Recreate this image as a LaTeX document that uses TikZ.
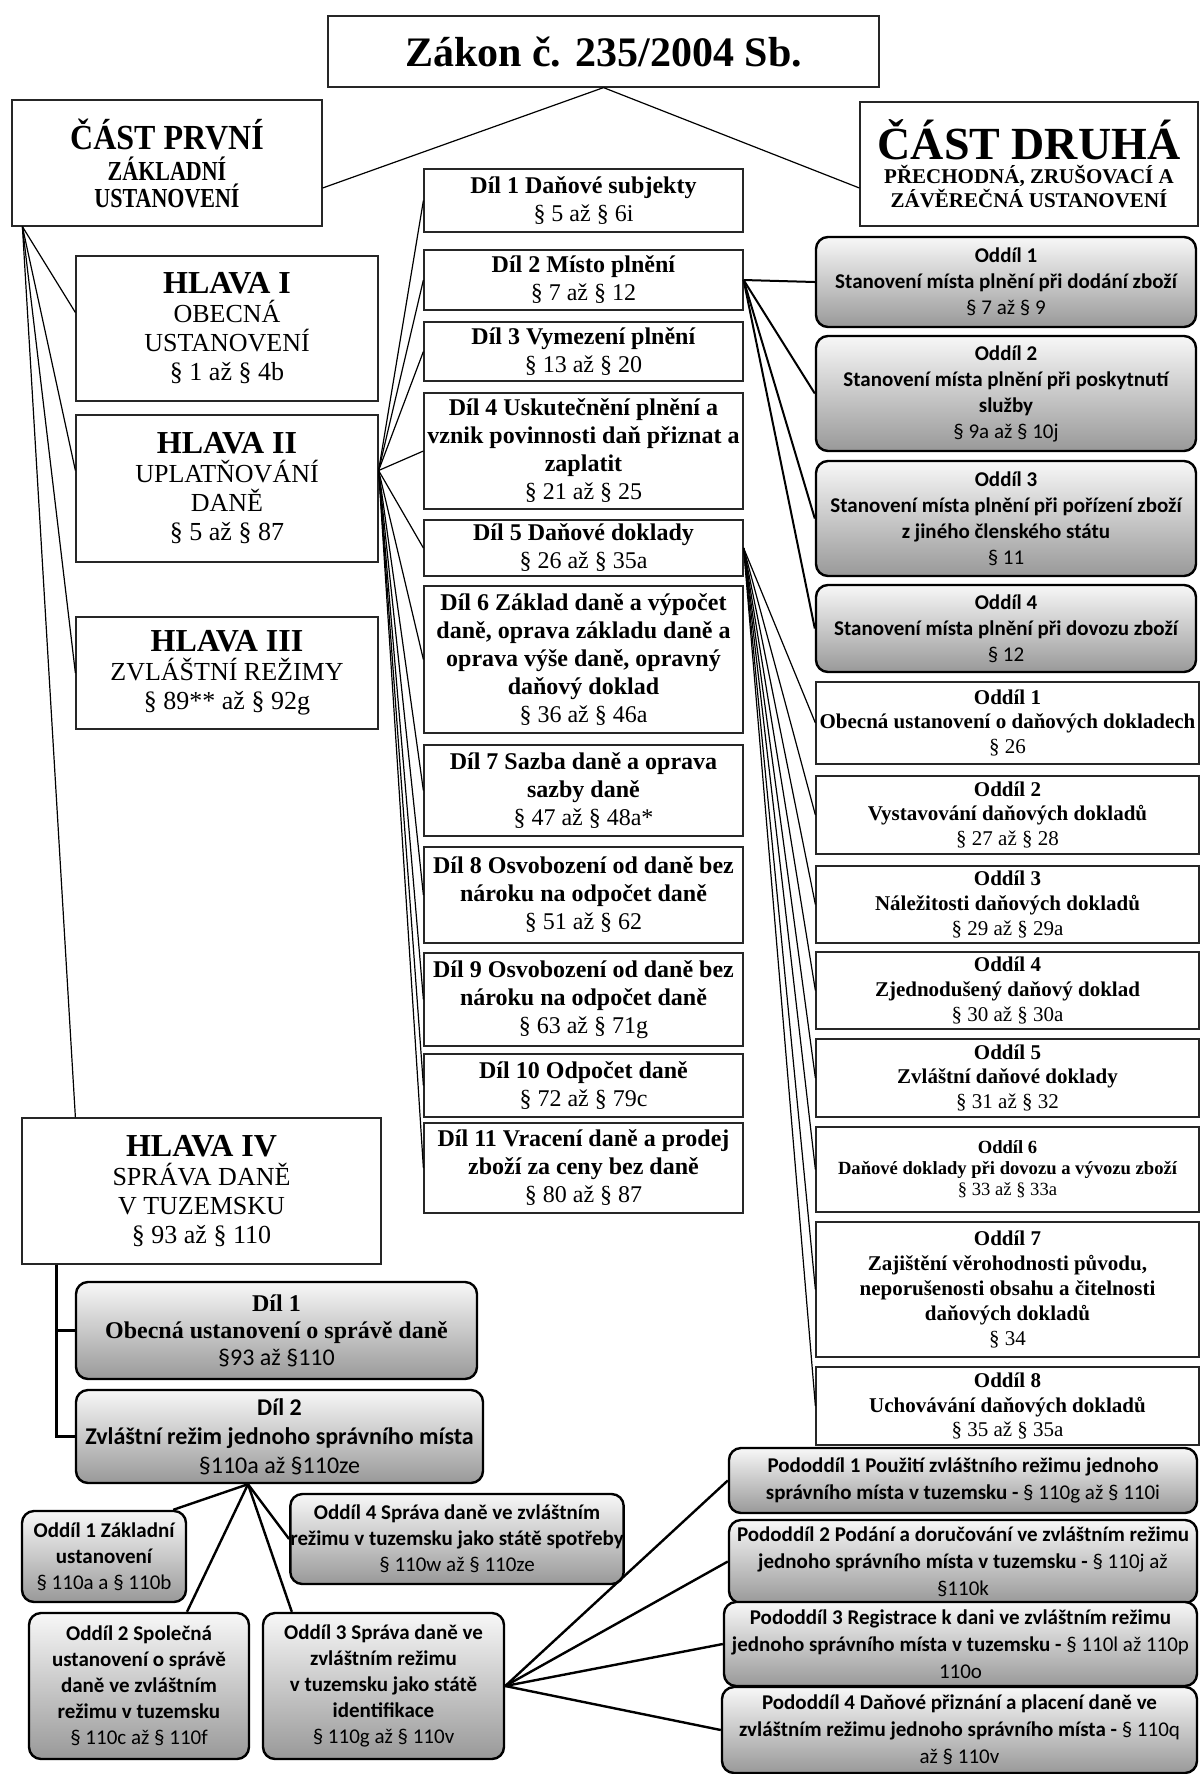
\documentclass[tikz,border=0pt]{standalone}
\usepackage{fontspec}
\usepackage{graphicx}
\setmainfont{Liberation Serif}
\newfontfamily\calibri{Carlito}

\newcommand{\hlava}[1]{{\fontsize{16}{18}\selectfont\bfseries #1}}

\begin{document}
\begin{tikzpicture}[x=1pt, y=-1pt,
  plainbox/.style={draw=black!85, line width=0.6pt, align=center, inner sep=0pt},
  hlbox/.style={plainbox, minimum width=151pt, font=\fontsize{13}{14.5}\selectfont},
  dilbox/.style={plainbox, minimum width=159.5pt, font=\fontsize{12}{14}\selectfont},
  doklbox/.style={plainbox, minimum width=191.5pt, font=\fontsize{10.5}{12.4}\selectfont\bfseries},
  graybox/.style={draw, line width=1.2pt, rounded corners=6pt, top color=black!3,
    bottom color=black!40, align=center, inner sep=0pt,
    font=\calibri\fontsize{10.5}{13}\selectfont\bfseries},
  thinline/.style={line width=0.6pt},
  midline/.style={line width=1pt},
  thickline/.style={line width=1.2pt}]

  \useasboundingbox (0,0) rectangle (600,887);

  % law and its two parts
  \node[plainbox, minimum width=275.5pt, minimum height=35.5pt,
    font=\fontsize{21}{25}\selectfont\bfseries] (zakon) at (301.75,25.75) {Zákon č. 235/2004 Sb.};
  \node[plainbox, minimum width=155pt, minimum height=63pt,
    font=\fontsize{11}{13.5}\selectfont\bfseries] (prvni) at (83.5,81.5)
    {{\fontsize{16}{18}\selectfont\scalebox{1}[1.1]{ČÁST PRVNÍ}}\\[2pt]
     \scalebox{1}[1.25]{ZÁKLADNÍ}\\ \scalebox{1}[1.25]{USTANOVENÍ}};
  \node[plainbox, minimum width=169pt, minimum height=62pt,
    font=\fontsize{10.5}{12}\selectfont\bfseries] (druha) at (514.5,82)
    {{\fontsize{23}{25}\selectfont ČÁST DRUHÁ}\\ PŘECHODNÁ, ZRUŠOVACÍ A\\ ZÁVĚREČNÁ USTANOVENÍ};

  \draw[thinline] (zakon.south) -- ([yshift=-12.5pt]prvni.east);
  \draw[thinline] (zakon.south) -- ([yshift=-12pt]druha.west);

  % hlavy
  \node[hlbox, minimum height=72.5pt] (hl1) at (113.5,164.25)
    {\hlava{HLAVA I}\\ OBECNÁ\\ USTANOVENÍ\\ § 1 až § 4b};
  \node[hlbox, minimum height=73.5pt] (hl2) at (113.5,244.25)
    {\hlava{HLAVA II}\\ UPLATŇOVÁNÍ\\ DANĚ\\ § 5 až § 87};
  \node[hlbox, minimum height=56pt] (hl3) at (113.5,336.5)
    {\hlava{HLAVA III}\\ ZVLÁŠTNÍ REŽIMY\\ § 89** až § 92g};
  \node[hlbox, minimum width=179.5pt, minimum height=73pt] (hl4) at (100.75,595.5)
    {\hlava{HLAVA IV}\\ SPRÁVA DANĚ\\ V TUZEMSKU\\ § 93 až § 110};

  \coordinate (prvnihub) at ([xshift=5.5pt]prvni.south west);
  \draw[thinline] (prvnihub) -- ([yshift=8pt]hl1.west);
  \draw[thinline] (prvnihub) -- ([yshift=9pt]hl2.west);
  \draw[thinline] (prvnihub) -- (hl3.west);
  \draw[thinline] (prvnihub) -- ([xshift=27pt]hl4.north west);

  % dily of hlava II
  \node[dilbox, minimum height=31.5pt] (dil1) at (291.75,100.25)
    {\textbf{Díl 1 Daňové subjekty}\\ § 5 až § 6i};
  \node[dilbox, minimum height=30pt] (dil2) at (291.75,140)
    {\textbf{Díl 2 Místo plnění}\\ § 7 až § 12};
  \node[dilbox, minimum height=29.5pt] (dil3) at (291.75,175.75)
    {\textbf{Díl 3 Vymezení plnění}\\ § 13 až § 20};
  \node[dilbox, minimum height=58pt] (dil4) at (291.75,225.5)
    {\textbf{Díl 4 Uskutečnění plnění a}\\ \textbf{vznik povinnosti daň přiznat a}\\
     \textbf{zaplatit}\\ § 21 až § 25};
  \node[dilbox, minimum height=28pt] (dil5) at (291.75,274)
    {\textbf{Díl 5 Daňové doklady}\\ § 26 až § 35a};
  \node[dilbox, minimum height=73.5pt] (dil6) at (291.75,329.75)
    {\textbf{Díl 6 Základ daně a výpočet}\\ \textbf{daně, oprava základu daně a}\\
     \textbf{oprava výše daně, opravný}\\ \textbf{daňový doklad}\\ § 36 až § 46a};
  \node[dilbox, minimum height=45.5pt] (dil7) at (291.75,395.25)
    {\textbf{Díl 7 Sazba daně a oprava}\\ \textbf{sazby daně}\\ § 47 až § 48a*};
  \node[dilbox, minimum height=48pt] (dil8) at (291.75,447.5)
    {\textbf{Díl 8 Osvobození od daně bez}\\ \textbf{nároku na odpočet daně}\\ § 51 až § 62};
  \node[dilbox, minimum height=46.5pt] (dil9) at (291.75,499.75)
    {\textbf{Díl 9 Osvobození od daně bez}\\ \textbf{nároku na odpočet daně}\\ § 63 až § 71g};
  \node[dilbox, minimum height=31.5pt] (dil10) at (291.75,542.75)
    {\textbf{Díl 10 Odpočet daně}\\ § 72 až § 79c};
  \node[dilbox, minimum height=45pt] (dil11) at (291.75,584)
    {\textbf{Díl 11 Vracení daně a prodej}\\ \textbf{zboží za ceny bez daně}\\ § 80 až § 87};

  \coordinate (hlhub) at ([yshift=9pt]hl2.east);
  \foreach \i in {1,...,11}
    \draw[thinline] (hlhub) -- (dil\i.west);

  % oddily of dil 2
  \node[graybox, minimum width=190pt, minimum height=45pt] (mist1) at (503,141)
    {Oddíl 1\\ Stanovení místa plnění při dodání zboží\\ \textmd{§ 7 až § 9}};
  \node[graybox, minimum width=190pt, minimum height=57.5pt] (mist2) at (503,196.75)
    {Oddíl 2\\ Stanovení místa plnění při poskytnutí\\ služby\\ \textmd{§ 9a až § 10j}};
  \node[graybox, minimum width=190pt, minimum height=57.5pt] (mist3) at (503,259.25)
    {Oddíl 3\\ Stanovení místa plnění při pořízení zboží\\ z jiného členského státu\\ \textmd{§ 11}};
  \node[graybox, minimum width=190pt, minimum height=43.5pt] (mist4) at (503,314.25)
    {Oddíl 4\\ Stanovení místa plnění při dovozu zboží\\ \textmd{§ 12}};

  \foreach \i in {1,...,4}
    \draw[midline] (dil2.east) -- (mist\i.west);

  % oddily of dil 5
  \node[doklbox, minimum height=41pt] (dokl1) at (503.75,361.5)
    {Oddíl 1\\ Obecná ustanovení o daňových dokladech\\ \textmd{§ 26}};
  \node[doklbox, minimum height=39pt] (dokl2) at (503.75,407.5)
    {Oddíl 2\\ Vystavování daňových dokladů\\ \textmd{§ 27 až § 28}};
  \node[doklbox, minimum height=38.5pt] (dokl3) at (503.75,452.25)
    {Oddíl 3\\ Náležitosti daňových dokladů\\ \textmd{§ 29 až § 29a}};
  \node[doklbox, minimum height=38.5pt] (dokl4) at (503.75,495.25)
    {Oddíl 4\\ Zjednodušený daňový doklad\\ \textmd{§ 30 až § 30a}};
  \node[doklbox, minimum height=39pt] (dokl5) at (503.75,539)
    {Oddíl 5\\ Zvláštní daňové doklady\\ \textmd{§ 31 až § 32}};
  \node[doklbox, minimum height=42.5pt, font=\fontsize{9.3}{10.5}\selectfont\bfseries] (dokl6) at (503.75,584.75)
    {Oddíl 6\\ Daňové doklady při dovozu a vývozu zboží\\ \textmd{§ 33 až § 33a}};
  \node[doklbox, minimum height=67.5pt] (dokl7) at (503.75,644.75)
    {Oddíl 7\\ Zajištění věrohodnosti původu,\\ neporušenosti obsahu a čitelnosti\\
     daňových dokladů\\ \textmd{§ 34}};
  \node[doklbox, minimum height=39pt] (dokl8) at (503.75,703)
    {Oddíl 8\\ Uchovávání daňových dokladů\\ \textmd{§ 35 až § 35a}};

  \foreach \i in {1,...,8}
    \draw[thinline] (dil5.east) -- (dokl\i.west);

  % dily of hlava IV
  \node[graybox, minimum width=200.5pt, minimum height=48.5pt,
    font=\fontsize{12}{13.5}\selectfont\bfseries] (hdil1) at (138.25,665.25)
    {Díl 1\\ Obecná ustanovení o správě daně\\ {\calibri\mdseries §93 až §110}};
  \node[graybox, minimum width=203.5pt, minimum height=46.5pt,
    font=\calibri\fontsize{12}{14.5}\selectfont\bfseries] (hdil2) at (139.75,718.25)
    {Díl 2\\ Zvláštní režim jednoho správního místa\\ \textmd{§110a až §110ze}};

  \draw[thickline] ([xshift=17.5pt]hl4.south west) |- (hdil1.west);
  \draw[thickline] ([xshift=17.5pt]hl4.south west) |- (hdil2.west);

  % oddily of dil 2 (hlava IV)
  \node[graybox, minimum width=82pt, minimum height=45.5pt] (spr1) at (52,778.25)
    {Oddíl 1 Základní\\ ustanovení\\ \textmd{§ 110a a § 110b}};
  \node[graybox, minimum width=110pt, minimum height=73pt] (spr2) at (69.5,843)
    {Oddíl 2 Společná\\ ustanovení o správě\\ daně ve zvláštním\\ režimu v tuzemsku\\
     \textmd{§ 110c až § 110f}};
  \node[graybox, minimum width=120.5pt, minimum height=73pt] (spr3) at (191.75,843)
    {Oddíl 3 Správa daně ve\\ zvláštním režimu\\ v tuzemsku jako státě\\ identifikace\\
     \textmd{§ 110g až § 110v}};
  \node[graybox, minimum width=163pt, minimum height=45pt] (spr4) at (228.5,769.5)
    {Oddíl 4 Správa daně ve zvláštním\\ režimu v tuzemsku jako státě spotřeby\\
     \textmd{§ 110w až § 110ze}};

  \coordinate (hdilhub) at ([xshift=-15.75pt]hdil2.south);
  \draw[thickline] (hdilhub) -- ([xshift=-7pt]spr1.north east);
  \draw[thickline] (hdilhub) -- ([xshift=24pt]spr2.north);
  \draw[thickline] (hdilhub) -- ([xshift=15pt]spr3.north west);
  \draw[thickline] (hdilhub) -- (spr4.west);

  % pododdily of oddil 3
  \node[graybox, minimum width=234pt, minimum height=32.5pt, font=\calibri\fontsize{10.5}{13.5}\selectfont\bfseries] (pod1) at (481.5,740.25)
    {Pododdíl 1 Použití zvláštního režimu jednoho\\
     správního místa v tuzemsku - \textmd{§ 110g až § 110i}};
  \node[graybox, minimum width=234pt, minimum height=41.5pt, font=\calibri\fontsize{10.5}{13.5}\selectfont\bfseries] (pod2) at (481.5,780.75)
    {Pododdíl 2 Podání a doručování ve zvláštním režimu\\
     jednoho správního místa v tuzemsku - \textmd{§ 110j až}\\ \textmd{§110k}};
  \node[graybox, minimum width=236.5pt, minimum height=42pt, font=\calibri\fontsize{10.5}{13.5}\selectfont\bfseries] (pod3) at (480.25,822)
    {Pododdíl 3 Registrace k dani ve zvláštním režimu\\
     jednoho správního místa v tuzemsku - \textmd{§ 110l až 110p}\\ \textmd{110o}};
  \node[graybox, minimum width=237.5pt, minimum height=43pt, font=\calibri\fontsize{10.5}{13.5}\selectfont\bfseries] (pod4) at (479.75,865)
    {Pododdíl 4 Daňové přiznání a placení daně ve\\
     zvláštním režimu jednoho správního místa - \textmd{§ 110q}\\ \textmd{až § 110v}};

  \foreach \i in {1,...,4}
    \draw[thickline] (spr3.east) -- (pod\i.west);

\end{tikzpicture}
\end{document}
